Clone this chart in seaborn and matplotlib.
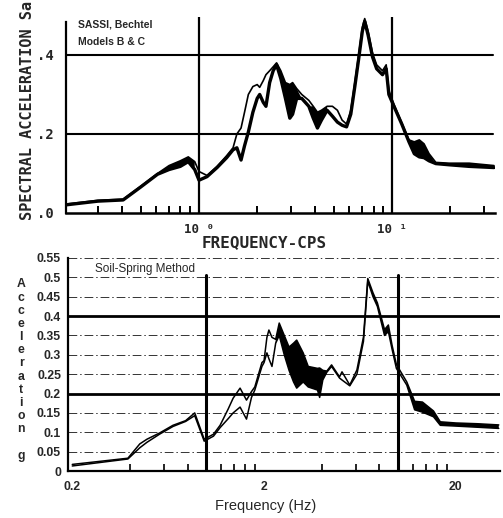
import numpy as np
import matplotlib
matplotlib.use("Agg")
import matplotlib.pyplot as plt
import matplotlib.ticker as mticker
import seaborn as sns

# upper panel: SASSI, Bechtel models B & C
top_freq = [0.2, 0.3, 0.405, 0.5, 0.61, 0.7, 0.8, 0.88, 0.95, 1.0, 1.1, 1.24, 1.39, 1.5, 1.57,
            1.65, 1.72, 1.8, 1.9, 2.0, 2.06, 2.15, 2.22, 2.32, 2.42, 2.52, 2.65, 2.8, 2.95, 3.05,
            3.2, 3.4, 3.7, 3.9, 4.1, 4.3, 4.6, 4.9, 5.2, 5.5, 5.8, 6.1, 6.4, 6.7, 7.0, 7.2, 7.5,
            7.9, 8.3, 8.9, 9.3, 9.6, 10.2, 11.2, 12.2, 13.0, 13.8, 14.6, 15.5, 16.8, 19.7, 25, 33.6]
top_lower = [0.02, 0.03, 0.033, 0.066, 0.098, 0.11, 0.118, 0.13, 0.11, 0.083, 0.092, 0.115, 0.14,
             0.16, 0.165, 0.134, 0.17, 0.205, 0.255, 0.29, 0.30, 0.28, 0.27, 0.33, 0.36, 0.375,
             0.34, 0.29, 0.24, 0.25, 0.29, 0.29, 0.27, 0.24, 0.215, 0.235, 0.26, 0.245, 0.23,
             0.222, 0.218, 0.25, 0.32, 0.39, 0.46, 0.485, 0.45, 0.395, 0.365, 0.35, 0.365, 0.30,
             0.27, 0.225, 0.18, 0.15, 0.142, 0.14, 0.132, 0.125, 0.122, 0.118, 0.115]
top_upper = [0.022, 0.032, 0.035, 0.068, 0.10, 0.12, 0.132, 0.142, 0.13, 0.105, 0.095, 0.118,
             0.145, 0.165, 0.20, 0.215, 0.255, 0.30, 0.32, 0.325, 0.318, 0.335, 0.35, 0.36, 0.37,
             0.38, 0.36, 0.33, 0.325, 0.33, 0.315, 0.30, 0.285, 0.27, 0.255, 0.26, 0.27, 0.27,
             0.26, 0.235, 0.225, 0.26, 0.33, 0.40, 0.47, 0.492, 0.46, 0.405, 0.375, 0.36, 0.375,
             0.31, 0.275, 0.228, 0.185, 0.18, 0.185, 0.175, 0.15, 0.128, 0.126, 0.126, 0.12]
top_bands = [(0.6, 0.95), (2.42, 3.3), (3.9, 4.7), (12.0, 16.0), (19.0, 34.0)]

# lower panel: soil-spring method
bot_freq = [0.2, 0.39, 0.45, 0.49, 0.57, 0.67, 0.78, 0.87, 0.975, 1.09, 1.18, 1.3, 1.38, 1.5,
            1.62, 1.72, 1.79, 1.95, 2.0, 2.07, 2.12, 2.2, 2.3, 2.4, 2.55, 2.7, 2.85, 2.96, 3.2,
            3.4, 3.8, 3.9, 4.05, 4.25, 4.5, 4.95, 5.1, 5.6, 6.1, 6.6, 6.95, 7.4, 7.8, 8.5, 8.9,
            9.3, 9.8, 11.1, 12.2, 13.4, 15.3, 16.6, 20, 26, 33.5]
bot_a = [0.017, 0.033, 0.07, 0.082, 0.098, 0.118, 0.130, 0.150, 0.082, 0.095, 0.118, 0.16,
         0.188, 0.214, 0.183, 0.205, 0.217, 0.28, 0.285, 0.345, 0.364, 0.345, 0.34, 0.382, 0.35,
         0.32, 0.33, 0.338, 0.305, 0.27, 0.265, 0.266, 0.26, 0.258, 0.274, 0.243, 0.256, 0.222,
         0.261, 0.346, 0.497, 0.46, 0.434, 0.365, 0.377, 0.325, 0.275, 0.23, 0.18, 0.178, 0.155,
         0.127, 0.124, 0.122, 0.119]
bot_b = [0.013, 0.031, 0.06, 0.074, 0.095, 0.115, 0.128, 0.143, 0.077, 0.090, 0.112, 0.135,
         0.150, 0.165, 0.134, 0.19, 0.209, 0.27, 0.28, 0.305, 0.29, 0.27, 0.33, 0.35, 0.30,
         0.26, 0.23, 0.214, 0.23, 0.217, 0.209, 0.19, 0.235, 0.255, 0.27, 0.24, 0.235, 0.22,
         0.25, 0.335, 0.49, 0.45, 0.425, 0.35, 0.36, 0.315, 0.265, 0.222, 0.158, 0.152, 0.14,
         0.118, 0.116, 0.113, 0.11]
bot_bands = [(2.3, 4.3), (6.8, 9.4), (10.5, 34.0)]

bot_yticks = [0, 0.05, 0.1, 0.15, 0.2, 0.25, 0.3, 0.35, 0.4, 0.45, 0.5, 0.55]
bot_ylabels = ["0", "0.05", "0.1", "0.15", "0.2", "0.25", "0.3", "0.35", "0.4", "0.45", "0.5", "0.55"]

sns.set_style("white")
plt.rcParams["font.family"] = ["Liberation Sans", "DejaVu Sans"]
MONO = "DejaVu Sans Mono"


def band_mask(freq, bands):
    f = np.asarray(freq)
    m = np.zeros(len(f), dtype=bool)
    for lo, hi in bands:
        m |= (f >= lo) & (f <= hi)
    return m


fig = plt.figure(figsize=(5.03, 5.18), dpi=100)

# ---------------- upper panel ----------------
ax1 = fig.add_axes([66 / 503, 1 - 213 / 518, 429 / 503, 196 / 518])
ax1.set_xscale("log")
ax1.set_xlim(0.205, 34)
ax1.set_ylim(0, 0.496)
for y in (0.2, 0.4):
    ax1.axhline(y, color="black", lw=1.5, xmax=0.995)
for x in (1, 10):
    ax1.axvline(x, color="black", lw=1.6)
ax1.fill_between(top_freq, top_lower, top_upper, where=band_mask(top_freq, top_bands),
                 interpolate=True, color="black", lw=0)
sns.lineplot(x=top_freq, y=top_upper, ax=ax1, color="black", lw=1.2, estimator=None, sort=False)
sns.lineplot(x=top_freq, y=top_lower, ax=ax1, color="black", lw=2.4, estimator=None, sort=False)

for s in ("top", "right"):
    ax1.spines[s].set_visible(False)
ax1.spines["left"].set_bounds(0, 0.483)
ax1.spines["left"].set_linewidth(1.6)
ax1.spines["bottom"].set_linewidth(1.8)
ax1.spines["left"].set_color("black")
ax1.spines["bottom"].set_color("black")
ax1.set_yticks([0, 0.2, 0.4])
ax1.set_yticklabels([".0", ".2", ".4"], fontfamily=MONO, fontweight="bold", fontsize=10)
ax1.xaxis.set_major_locator(mticker.FixedLocator([1, 10]))
ax1.xaxis.set_major_formatter(mticker.FixedFormatter(["10 \u2070", "10 \u00b9"]))
ax1.xaxis.set_minor_locator(mticker.LogLocator(base=10, subs=np.arange(2, 10)))
ax1.xaxis.set_minor_formatter(mticker.NullFormatter())
for lab in ax1.get_xticklabels():
    lab.set_fontfamily(MONO)
    lab.set_fontweight("bold")
    lab.set_fontsize(9)
ax1.tick_params(axis="y", length=0, pad=9)
ax1.tick_params(axis="x", which="major", length=0, pad=7)
ax1.tick_params(axis="x", which="minor", direction="in", length=5, width=1.4, color="black",
                bottom=True)
ax1.set_xlabel("")
ax1.set_ylabel("")
ax1.text(0.028, 0.96, "SASSI, Bechtel", transform=ax1.transAxes, fontsize=7.5,
         fontweight="bold", va="center", ha="left")
ax1.text(0.028, 0.873, "Models B & C", transform=ax1.transAxes, fontsize=7.5,
         fontweight="bold", va="center", ha="left")
fig.text(264 / 503, 1 - 243 / 518, "FREQUENCY-CPS", fontfamily=MONO, fontweight="bold",
         fontsize=11.5, ha="center", va="center")
fig.text(28 / 503, 1 - 220 / 518, "SPECTRAL ACCELERATION Sa", fontfamily=MONO,
         fontweight="bold", fontsize=11, rotation=90, ha="center", va="bottom")

# ---------------- lower panel ----------------
ax2 = fig.add_axes([68 / 503, 1 - 471 / 518, 432 / 503, 213 / 518])
ax2.set_xscale("log")
ax2.set_xlim(0.19, 34)
ax2.set_ylim(0, 0.55)
for y in bot_yticks[1:]:
    if y in (0.2, 0.4):
        ax2.axhline(y, color="black", lw=2.0)
    else:
        ax2.axhline(y, color="black", lw=0.7, ls=(0, (9, 3, 1.5, 3)), alpha=0.8)
for x in (1, 10):
    ax2.axvline(x, color="black", lw=2.2, ymax=0.506 / 0.55)
ax2.fill_between(bot_freq, bot_b, bot_a, where=band_mask(bot_freq, bot_bands),
                 interpolate=True, color="black", lw=0)
sns.lineplot(x=bot_freq, y=bot_a, ax=ax2, color="black", lw=1.1, estimator=None, sort=False)
sns.lineplot(x=bot_freq, y=bot_b, ax=ax2, color="black", lw=1.1, estimator=None, sort=False)

for s in ("top", "right"):
    ax2.spines[s].set_visible(False)
for s in ("left", "bottom"):
    ax2.spines[s].set_color("black")
    ax2.spines[s].set_linewidth(1.6)
ax2.set_yticks(bot_yticks)
ax2.set_yticklabels(bot_ylabels, fontweight="bold", fontsize=8.8)
ax2.xaxis.set_major_locator(mticker.FixedLocator([0.2, 2, 20]))
ax2.xaxis.set_major_formatter(mticker.FixedFormatter(["0.2", "2", "20"]))
minor = [0.2 * k for k in range(2, 10)] + [2 * k for k in range(2, 10)] + [20 * k for k in range(2, 10)]
ax2.xaxis.set_minor_locator(mticker.FixedLocator(minor))
ax2.xaxis.set_minor_formatter(mticker.NullFormatter())
for lab in ax2.get_xticklabels():
    lab.set_fontweight("bold")
    lab.set_fontsize(8.8)
ax2.tick_params(axis="y", length=0, pad=5)
ax2.tick_params(axis="x", which="major", length=0, pad=7)
ax2.tick_params(axis="x", which="minor", direction="in", length=5, width=1.2, color="black",
                bottom=True)
ax2.set_xlabel("")
ax2.set_ylabel("")
ax2.text(0.062, 0.948, "Soil-Spring Method", transform=ax2.transAxes, fontsize=8.5,
         va="center", ha="left")
fig.text(266 / 503, 1 - 506 / 518, "Frequency (Hz)", fontsize=10.5, ha="center", va="center")
fig.text(21 / 503, 1 - 370 / 518, "\n".join("Acceleration") + "\n\ng", fontsize=8.8,
         fontweight="bold", ha="center", va="center", linespacing=1.13)

fig.savefig("out.png", dpi=100)
